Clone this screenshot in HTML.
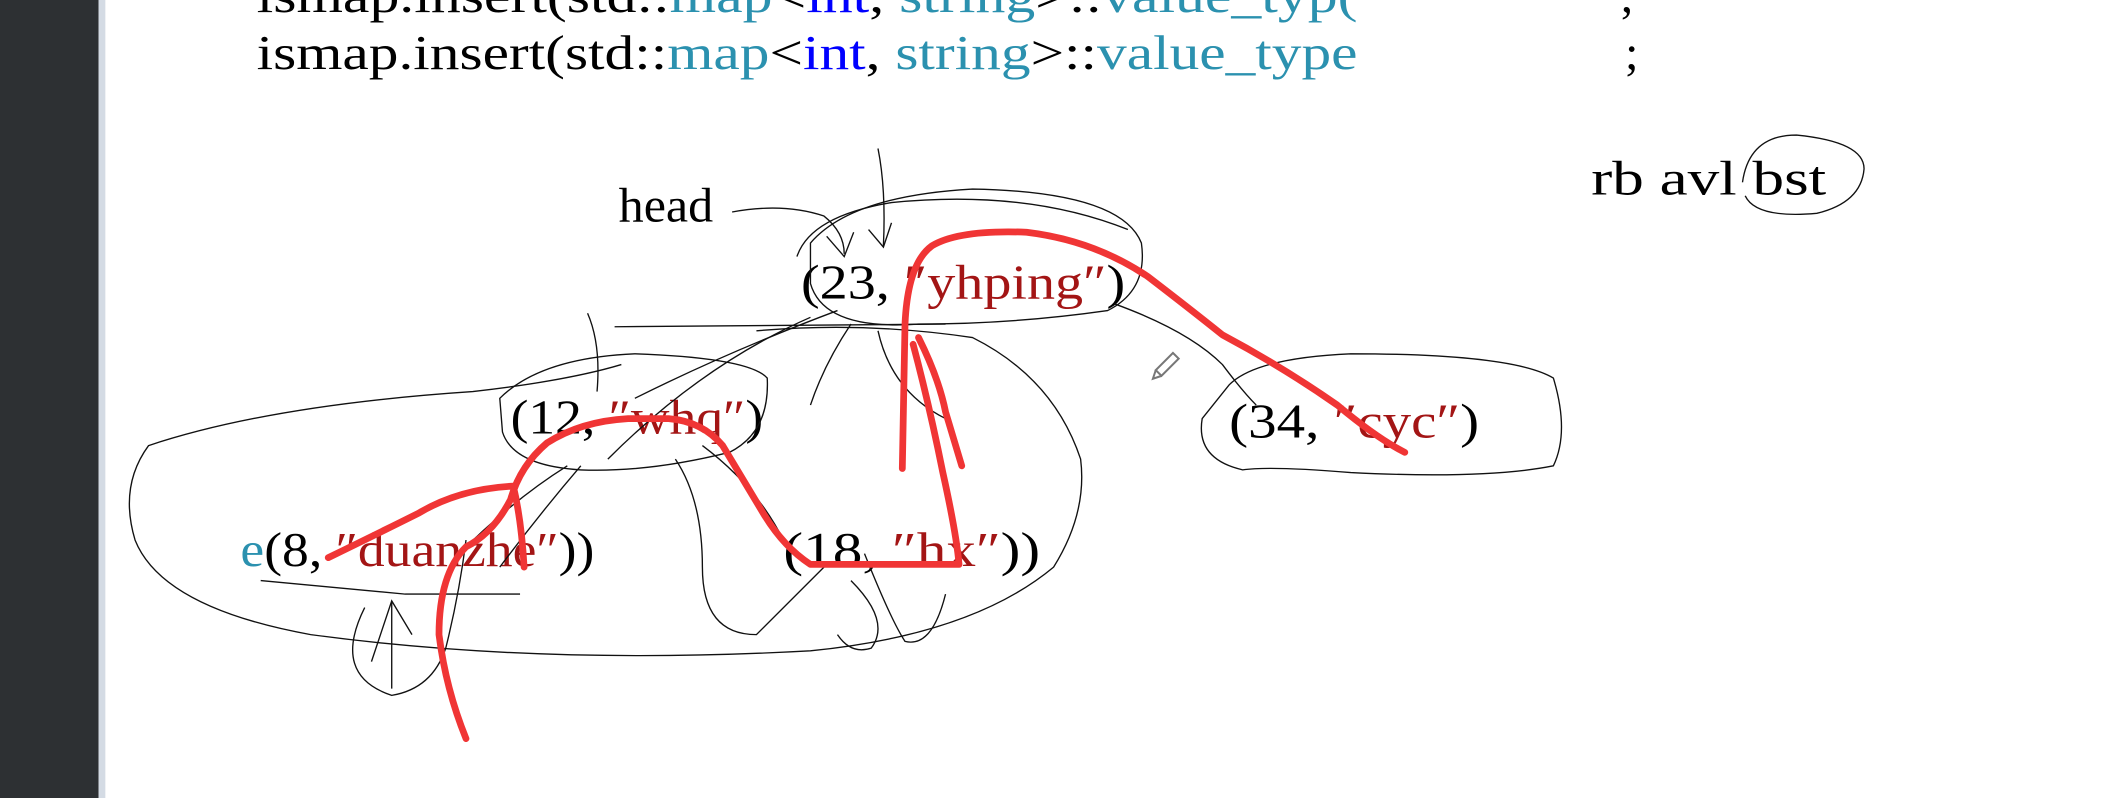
<!DOCTYPE html>
<html><head><meta charset="utf-8"><style>
html,body{margin:0;padding:0;background:#fff;}
svg{display:block;}
text{font-family:"Liberation Serif","Noto Serif CJK SC",serif;font-size:36px;}
.t{fill:#2b91af}.b{fill:#0000ff}.r{fill:#a31515}
</style></head><body>
<svg width="2118" height="798" viewBox="0 0 1568 591" preserveAspectRatio="none" xmlns="http://www.w3.org/2000/svg">
<rect x="0" y="0" width="1568" height="591" fill="#fff"/>
<rect x="0" y="0" width="73" height="591" fill="#2d3033"/>
<rect x="73" y="0" width="5" height="591" fill="#d4dbe4"/>

<text x="190" y="9" textLength="815" lengthAdjust="spacingAndGlyphs">ismap.insert(std::<tspan class="t">map</tspan>&lt;<tspan class="b">int</tspan>, <tspan class="t">string</tspan>&gt;::<tspan class="t">value_typ(</tspan></text>
<text x="1200" y="9">,</text>
<text x="190" y="51" textLength="815" lengthAdjust="spacingAndGlyphs">ismap.insert(std::<tspan class="t">map</tspan>&lt;<tspan class="b">int</tspan>, <tspan class="t">string</tspan>&gt;::<tspan class="t">value_type</tspan></text>
<text x="1203" y="51">;</text>

<text x="458" y="164" textLength="70" lengthAdjust="spacingAndGlyphs">head</text>
<text x="1178" y="144" textLength="174" lengthAdjust="spacingAndGlyphs">rb avl bst</text>
<text x="593" y="221" textLength="240" lengthAdjust="spacingAndGlyphs">(23, <tspan class="r">″yhping″</tspan>)</text>
<text x="378" y="321" textLength="187" lengthAdjust="spacingAndGlyphs">(12, <tspan class="r">″whq″</tspan>)</text>
<text x="178" y="419" textLength="262" lengthAdjust="spacingAndGlyphs"><tspan class="t">e</tspan>(8, <tspan class="r">″duanzhe″</tspan>))</text>
<text x="580" y="419" textLength="190" lengthAdjust="spacingAndGlyphs">(18, <tspan class="r">″hx″</tspan>))</text>
<text x="910" y="324" textLength="185" lengthAdjust="spacingAndGlyphs">(34, <tspan class="r">″cyc″</tspan>)</text>

<g fill="none" stroke="#111" stroke-width="1">
<path d="M542,157 Q580,150 610,160 Q625,172 625,188"/>
<path d="M612,175 L625,190 L632,172"/>
<path d="M650,110 Q656,140 654,182"/>
<path d="M643,170 L654,183 L660,165"/>
<path d="M600,180 Q630,145 720,140 Q830,142 845,180 Q850,215 820,230 Q750,240 680,240 Q610,245 600,210 Z"/>
<path d="M590,190 Q600,160 660,150 Q760,140 835,170"/>
<path d="M1290,135 Q1295,100 1330,100 Q1380,105 1380,125 Q1378,150 1345,158 Q1300,162 1292,145"/>
<path d="M455,242 L700,240"/>
<path d="M560,245 Q640,238 720,250 Q780,280 800,340 Q805,380 780,420 Q720,470 600,482 Q400,493 230,470 Q120,450 100,400 Q88,360 110,330 Q200,300 350,290 Q420,282 460,270"/>
<path d="M370,295 Q400,265 470,262 Q555,265 568,280 Q570,320 540,335 Q480,350 430,348 Q380,345 372,320 Z"/>
<path d="M435,232 Q445,255 442,290"/>
<path d="M620,230 Q540,260 470,295"/>
<path d="M600,235 Q520,270 450,340"/>
<path d="M630,240 Q610,270 600,300"/>
<path d="M650,245 Q660,290 700,310"/>
<path d="M825,225 Q880,245 905,270 Q920,290 930,300"/>
<path d="M910,285 Q930,265 1000,262 Q1120,262 1150,280 Q1162,320 1150,345 Q1100,355 1000,350 Q940,345 920,348 Q885,340 890,310 Z"/>
<path d="M420,345 Q380,370 340,410"/>
<path d="M430,345 Q400,380 370,420"/>
<path d="M500,340 Q520,370 520,420 Q520,470 560,470 Q590,440 610,420"/>
<path d="M520,330 Q560,360 580,400"/>
<path d="M193,430 L300,440 L385,440"/>
<path d="M290,445 L290,510"/>
<path d="M275,490 L290,445 L305,470"/>
<path d="M270,450 Q245,500 290,515 Q320,510 330,480 Q340,440 345,400"/>
<path d="M630,430 Q660,460 645,480 Q630,485 620,470"/>
<path d="M640,410 Q660,460 670,475 Q690,480 700,440"/>
</g>

<g transform="translate(862,272) rotate(45)" fill="none" stroke="#777" stroke-width="1.5">
<rect x="-3" y="-12" width="6" height="18"/><path d="M-3,6 L0,12 L3,6"/>
</g>

<g fill="none" stroke="#f03535" stroke-width="5" stroke-linecap="round" stroke-linejoin="round">
<path d="M668,347 L670,240 Q672,195 690,182 Q710,170 760,172 Q810,178 850,205 Q880,228 905,248 Q950,272 990,300 Q1020,325 1040,335"/>
<path d="M680,250 Q695,280 700,305 L712,345"/>
<path d="M676,255 Q688,300 698,350 Q708,395 710,418 L600,418 Q580,405 565,380 Q550,355 535,330 Q520,312 495,310 L465,310 Q430,312 405,328 Q385,345 378,370 Q365,395 345,405 Q325,425 325,470 Q330,510 345,547"/>
<path d="M243,413 Q280,395 310,380 Q340,362 380,360 Q386,385 388,420"/>
</g>
</svg>
</body></html>
